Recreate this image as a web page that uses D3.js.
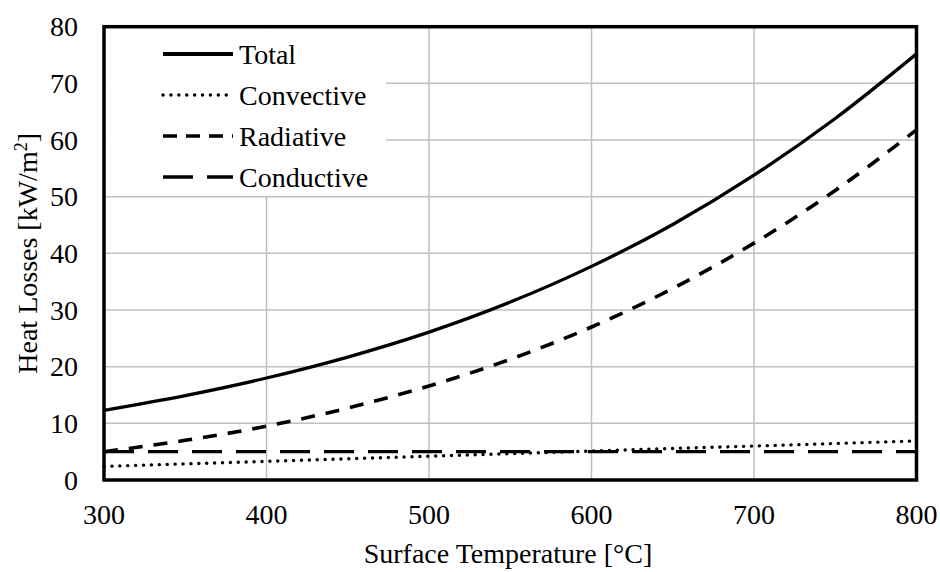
<!DOCTYPE html>
<html><head><meta charset="utf-8">
<script src="https://cdn.jsdelivr.net/npm/d3@7"></script>
<style>body{margin:0;background:#fff}svg{display:block}</style>
</head><body><svg id="c" width="940" height="572"></svg>
<script>
const temps = [300, 350, 400, 450, 500, 550, 600, 650, 700, 750, 800];
const total = [12.3, 14.9, 18.0, 21.7, 26.1, 31.4, 37.7, 45.1, 53.8, 63.8, 75.2];
const convective = [2.4, 2.85, 3.3, 3.75, 4.2, 4.65, 5.1, 5.55, 6.0, 6.45, 6.9];
const radiative = [5.0, 7.0, 9.5, 12.7, 16.6, 21.3, 27.0, 33.8, 41.8, 51.1, 61.8];
const conductive = [5, 5, 5, 5, 5, 5, 5, 5, 5, 5, 5];
const seriesNames = ["Total", "Convective", "Radiative", "Conductive"];
const xTicks = [300, 400, 500, 600, 700, 800];
const yTicks = [0, 10, 20, 30, 40, 50, 60, 70, 80];
const xTitle = "Surface Temperature [°C]";

const FONT = "Liberation Serif";
const svg = d3.select("#c");
const L = 104, R = 916.5, T = 26.7, B = 480;
const x = d3.scaleLinear().domain([300, 800]).range([L, R]);
const y = d3.scaleLinear().domain([0, 80]).range([B, T]);

// grid
svg.append("g").selectAll("line").data(xTicks.slice(1, -1)).join("line")
  .attr("x1", d => x(d)).attr("x2", d => x(d)).attr("y1", T).attr("y2", B)
  .attr("stroke", "#bfbfbf").attr("stroke-width", 1.5);
svg.append("g").selectAll("line").data(yTicks.slice(1, -1)).join("line")
  .attr("x1", L).attr("x2", R).attr("y1", d => y(d)).attr("y2", d => y(d))
  .attr("stroke", "#bfbfbf").attr("stroke-width", 1.5);

const styles = [
  {data: total, dash: null, w: 3.3, cap: "butt"},
  {data: convective, dash: "0.1 7.8", w: 3.4, cap: "round"},
  {data: radiative, dash: "14 11", w: 3.6, cap: "butt"},
  {data: conductive, dash: "30 14", w: 3.4, cap: "butt"}
];
const line = d3.line().x((d, i) => x(temps[i])).y(d => y(d)).curve(d3.curveMonotoneX);
[3, 1, 2, 0].forEach(k => {
  const s = styles[k];
  svg.append("path").datum(s.data).attr("d", line).attr("fill", "none")
    .attr("stroke", "#000").attr("stroke-width", s.w).attr("stroke-linecap", s.cap)
    .attr("stroke-dasharray", s.dash);
});

// legend
svg.append("rect").attr("x", L + 2).attr("y", T + 2).attr("width", 280).attr("height", 167).attr("fill", "#fff");
const legY = [54, 95, 136, 177];
seriesNames.forEach((n, i) => {
  const s = styles[i];
  svg.append("line").attr("x1", 163).attr("x2", 233).attr("y1", legY[i]).attr("y2", legY[i])
    .attr("stroke", "#000").attr("stroke-width", i === 0 ? 4 : s.w).attr("stroke-linecap", s.cap)
    .attr("stroke-dasharray", i === 2 ? "14 9" : s.dash);
  svg.append("text").attr("x", 239).attr("y", legY[i] + 9.5).attr("font-size", 28)
    .attr("font-family", FONT).text(n);
});

// frame
svg.append("rect").attr("x", L).attr("y", T).attr("width", R - L).attr("height", B - T)
  .attr("fill", "none").attr("stroke", "#000").attr("stroke-width", 3.5);

// tick labels
svg.append("g").selectAll("text").data(xTicks).join("text")
  .attr("x", d => x(d)).attr("y", 524).attr("text-anchor", "middle").attr("font-size", 28)
  .attr("font-family", FONT).text(d => d);
svg.append("g").selectAll("text").data(yTicks).join("text")
  .attr("x", 78).attr("y", d => y(d) + 9.5).attr("text-anchor", "end").attr("font-size", 28)
  .attr("font-family", FONT).text(d => d);

svg.append("text").attr("x", 508).attr("y", 563).attr("text-anchor", "middle")
  .attr("font-size", 28).attr("font-family", FONT).text(xTitle);
const yt = svg.append("text").attr("transform", `translate(37,${(T + B) / 2}) rotate(-90)`)
  .attr("text-anchor", "middle").attr("font-size", 28).attr("font-family", FONT);
yt.append("tspan").text("Heat Losses [kW/m");
yt.append("tspan").attr("dy", -10).attr("font-size", 18).text("2");
yt.append("tspan").attr("dy", 10).text("]");
</script></body></html>
